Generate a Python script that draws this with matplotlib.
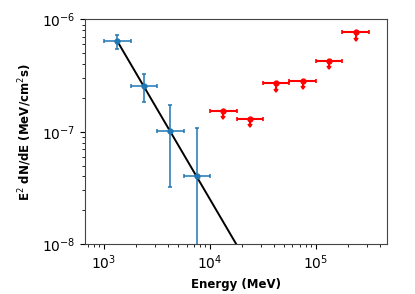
import numpy as np
import matplotlib
matplotlib.use('Agg')
import matplotlib.pyplot as plt

# log10 bin edges, 0.25 decade wide
blue_lo = np.array([3.0, 3.25, 3.5, 3.75])
red_lo = np.array([4.0, 4.25, 4.5, 4.75, 5.0, 5.25])
bw = 0.25

blue_flux = np.array([6.4e-7, 2.55e-7, 1.02e-7, 4.05e-8])
blue_err = np.array([0.9e-7, 0.7e-7, 0.7e-7, 0.665e-7])

red_flux = np.array([1.535e-7, 1.29e-7, 2.69e-7, 2.84e-7, 4.28e-7, 7.66e-7])

# power-law fit in E^2 dN/dE
fit_norm = 6.4e-7
fit_e0 = 10**3.125
fit_index = -1.61


def centers(lo):
    return 10**(lo + bw / 2)


def xerrs(lo):
    c = centers(lo)
    return [c - 10**lo, 10**(lo + bw) - c]


fig = plt.figure(figsize=(4.15, 2.94), dpi=100)
ax = fig.add_axes([0.205, 0.170, 0.728, 0.764])

ax.errorbar(centers(blue_lo), blue_flux, xerr=xerrs(blue_lo), yerr=blue_err,
            fmt='o', color='C0', ms=3.5, lw=1.1, capsize=1.5, capthick=1.1)

ax.errorbar(centers(red_lo), red_flux, xerr=xerrs(red_lo), yerr=0.1 * red_flux,
            uplims=True, fmt='o', color='red', ms=3.5, elinewidth=1.5,
            capsize=1.6, capthick=1.2)

e = np.logspace(3.125, 4.6, 50)
ax.plot(e, fit_norm * (e / fit_e0)**fit_index, color='black', lw=1.4)

ax.set_xscale('log')
ax.set_yscale('log')
ax.set_xlim(662, 4.7e5)
ax.set_ylim(1e-8, 1e-6)
ax.tick_params(labelsize=10)
ax.set_xlabel('Energy (MeV)', fontsize=8.5, fontweight='bold')
ax.set_ylabel('E$^2$ dN/dE (MeV/cm$^2$s)', fontsize=8.5, fontweight='bold', labelpad=6)
for s in ax.spines.values():
    s.set_color('#444444')

fig.savefig('out.png', dpi=100)
